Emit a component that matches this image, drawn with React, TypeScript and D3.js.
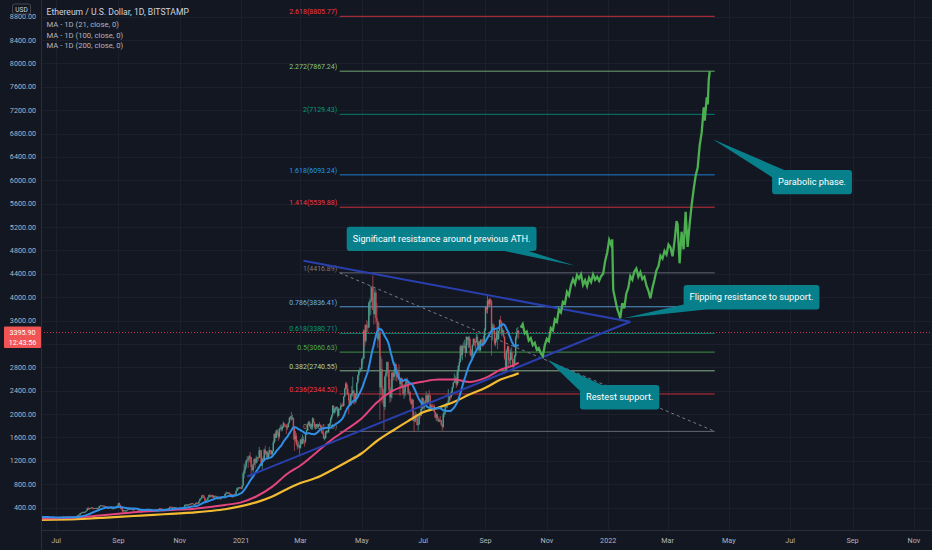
import { useEffect, useRef } from 'react';
import * as d3 from 'd3';

// [high, low, close] per day; open is the previous close
type Row = [number, number, number];

const W = 932;
const H = 550;

// closes before the visible window, used for the 21-day MA
const preStart = '2020-05-26';
const preCloses = [201, 209, 220, 220, 243, 231, 248, 237, 244, 244, 241, 242, 244, 244, 243, 247, 231, 237, 238, 234];

const jun2020: Row[] = [
    [234, 221, 231], [238, 229, 236], [238, 232, 234], [236, 229, 232], [233, 225, 228], [231, 226, 230], [232, 227, 228], [245, 228, 243],
    [245, 240, 243], [246, 232, 235], [236, 226, 232], [233, 226, 229], [231, 220, 222], [227, 219, 226], [230, 224, 228], [229, 224, 226],
];
const jul2020: Row[] = [
    [232, 225, 231], [232, 224, 226], [228, 224, 225], [230, 224, 229], [229, 224, 227], [242, 227, 241], [242, 237, 239], [248, 238, 247],
    [248, 240, 242], [243, 237, 242], [243, 238, 240], [243, 238, 242], [244, 236, 239], [241, 236, 240], [241, 236, 238], [239, 229, 233],
    [234, 231, 233], [237, 232, 236], [240, 234, 239], [239, 235, 236], [247, 236, 245], [266, 244, 264], [279, 262, 275], [283, 270, 279],
    [306, 278, 305], [312, 298, 311], [330, 302, 322], [334, 309, 317], [325, 313, 318], [336, 313, 335], [349, 330, 346],
];
const aug2020: Row[] = [
    [398, 345, 386], [413, 360, 372], [388, 365, 386], [394, 380, 389], [404, 383, 402], [402, 390, 396], [400, 366, 380], [393, 376, 391],
    [393, 377, 390], [398, 381, 395], [398, 358, 378], [392, 368, 390], [428, 387, 427], [443, 420, 437], [437, 428, 433], [435, 418, 433],
    [437, 422, 429], [439, 419, 423], [425, 397, 406], [418, 404, 416], [418, 385, 389], [397, 380, 395], [397, 385, 392], [410, 390, 408],
    [410, 378, 384], [390, 381, 386], [393, 373, 382], [396, 379, 395], [405, 393, 399], [429, 398, 428], [436, 421, 434],
];
const sep2020: Row[] = [
    [480, 433, 477], [488, 431, 440], [451, 373, 385], [397, 367, 386], [393, 319, 335], [355, 330, 353], [357, 336, 354], [356, 326, 337],
    [353, 333, 351], [368, 350, 366], [376, 362, 373], [389, 371, 386], [389, 362, 366], [378, 360, 376], [380, 358, 364], [368, 352, 364],
    [392, 364, 389], [393, 378, 384], [390, 382, 385], [385, 365, 371], [376, 337, 341], [349, 335, 344], [346, 312, 321], [354, 318, 350],
    [356, 342, 352], [357, 347, 354], [359, 345, 357], [368, 353, 354], [363, 349, 359], [362, 354, 359],
];
const oct2020: Row[] = [
    [373, 348, 354], [356, 337, 346], [351, 343, 346], [355, 344, 352], [355, 347, 353], [356, 333, 341], [342, 336, 340], [352, 338, 350],
    [367, 349, 365], [375, 364, 370], [380, 368, 376], [394, 373, 386], [390, 378, 381], [385, 376, 379], [381, 370, 377], [378, 362, 366],
    [370, 363, 368], [378, 366, 377], [383, 375, 379], [378, 364, 368], [396, 367, 392], [416, 389, 413], [416, 401, 409], [415, 404, 412],
    [415, 400, 406], [407, 385, 393], [407, 389, 404], [409, 381, 388], [393, 374, 386], [388, 372, 383], [394, 380, 386],
];
const nov2020: Row[] = [
    [398, 383, 396], [397, 378, 383], [392, 371, 387], [405, 380, 403], [417, 397, 415], [452, 413, 448], [456, 426, 435], [455, 431, 453],
    [463, 437, 444], [454, 441, 450], [470, 447, 463], [472, 452, 462], [478, 460, 475], [476, 454, 461], [462, 440, 449], [466, 442, 461],
    [487, 455, 481], [497, 463, 479], [481, 462, 471], [513, 470, 509], [557, 506, 549], [571, 527, 559], [614, 551, 608], [620, 585, 603],
    [620, 558, 568], [575, 489, 518], [530, 498, 518], [545, 510, 540], [580, 537, 576], [619, 573, 616],
];
const dec2020: Row[] = [
    [637, 570, 588], [602, 578, 598], [620, 590, 616], [620, 568, 569], [597, 562, 596], [606, 584, 601], [604, 584, 592], [595, 561, 573],
    [578, 532, 574], [574, 553, 560], [560, 537, 546], [571, 542, 567], [595, 565, 589], [592, 578, 589], [597, 582, 590], [639, 586, 636],
    [676, 628, 643], [663, 635, 655], [666, 646, 658], [669, 630, 638], [650, 606, 611], [634, 594, 628], [637, 565, 584], [617, 572, 612],
    [627, 600, 626], [642, 615, 634], [696, 631, 682], [747, 683, 730], [742, 698, 731], [754, 721, 751], [752, 717, 737],
];
const jan2021: Row[] = [
    [748, 714, 730], [787, 716, 775], [1011, 769, 979], [1154, 904, 1041], [1133, 986, 1100], [1210, 1064, 1208], [1280, 1170, 1225],
    [1265, 1080, 1224], [1300, 1180, 1281], [1350, 1170, 1262], [1266, 905, 1090], [1150, 1030, 1043], [1140, 1000, 1131], [1245, 1125, 1229],
    [1250, 1075, 1171], [1290, 1150, 1233], [1270, 1170, 1259], [1265, 1200, 1257], [1440, 1245, 1377], [1390, 1250, 1382], [1370, 1110, 1121],
    [1250, 1050, 1236], [1280, 1205, 1231], [1410, 1225, 1391], [1460, 1300, 1324], [1375, 1265, 1357], [1365, 1225, 1252], [1340, 1225, 1332],
    [1440, 1275, 1383], [1385, 1305, 1379], [1385, 1290, 1314],
];
const feb2021: Row[] = [
    [1380, 1300, 1369], [1545, 1355, 1515], [1670, 1495, 1660], [1695, 1530, 1594], [1735, 1595, 1719], [1740, 1640, 1677], [1700, 1540, 1614],
    [1765, 1580, 1750], [1815, 1720, 1769], [1825, 1700, 1744], [1800, 1710, 1783], [1875, 1760, 1843], [1850, 1780, 1814], [1820, 1770, 1800],
    [1830, 1660, 1779], [1825, 1730, 1781], [1860, 1770, 1848], [1945, 1838, 1938], [1970, 1895, 1960], [2040, 1890, 1919], [1990, 1900, 1935],
    [1940, 1560, 1781], [1785, 1370, 1570], [1710, 1525, 1626], [1675, 1465, 1475], [1560, 1395, 1446], [1530, 1430, 1459], [1480, 1290, 1417],
];
const mar2021: Row[] = [
    [1570, 1410, 1565], [1600, 1475, 1492], [1655, 1490, 1575], [1620, 1495, 1541], [1550, 1445, 1534], [1675, 1500, 1653], [1735, 1640, 1724],
    [1840, 1710, 1834], [1875, 1810, 1870], [1885, 1775, 1795], [1840, 1745, 1825], [1840, 1730, 1772], [1945, 1730, 1924], [1935, 1850, 1854],
    [1875, 1760, 1791], [1815, 1735, 1806], [1830, 1745, 1822], [1840, 1760, 1782], [1830, 1770, 1814], [1865, 1800, 1805], [1820, 1730, 1782],
    [1810, 1670, 1681], [1720, 1650, 1669], [1740, 1580, 1583], [1625, 1550, 1588], [1710, 1585, 1700], [1725, 1665, 1716], [1720, 1670, 1691],
    [1830, 1680, 1819], [1850, 1785, 1846], [1950, 1795, 1919],
];
const apr2021: Row[] = [
    [1990, 1900, 1977], [2150, 1955, 2144], [2145, 2020, 2024], [2100, 2005, 2089], [2125, 2040, 2114], [2135, 2060, 2118], [2125, 1935, 1971],
    [2100, 1960, 2089], [2095, 2055, 2075], [2195, 2070, 2136], [2160, 2120, 2159], [2200, 2120, 2140], [2310, 2130, 2300], [2450, 2290, 2436],
    [2545, 2420, 2519], [2550, 2335, 2431], [2495, 2320, 2344], [2370, 2000, 2238], [2280, 2150, 2159], [2345, 2135, 2331], [2480, 2300, 2358],
    [2640, 2300, 2402], [2410, 2170, 2362], [2365, 2170, 2215], [2355, 2185, 2316], [2540, 2310, 2535], [2675, 2520, 2663], [2760, 2580, 2747],
    [2800, 2700, 2757], [2790, 2720, 2773],
];
const may2021: Row[] = [
    [2950, 2765, 2945], [2985, 2860, 2949], [3450, 2945, 3431], [3530, 3160, 3253], [3540, 3220, 3522], [3610, 3385, 3491], [3580, 3400, 3484],
    [3930, 3470, 3902], [3980, 3680, 3928], [4200, 3700, 3952], [4190, 3920, 4168], [4372, 3780, 3785], [4000, 3530, 3715], [4150, 3690, 4079],
    [4120, 3550, 3640], [3900, 3300, 3587], [3590, 3130, 3282], [3560, 3250, 3374], [3440, 1900, 2460], [2990, 2340, 2773], [2940, 2200, 2431],
    [2480, 2160, 2302], [2400, 1730, 2123], [2660, 2070, 2643], [2750, 2390, 2707], [2900, 2660, 2888], [2900, 2630, 2737], [2760, 2370, 2420],
    [2600, 2190, 2285], [2460, 2220, 2389], [2720, 2270, 2707],
];
const jun2021: Row[] = [
    [2730, 2560, 2634], [2760, 2580, 2707], [2890, 2650, 2856], [2860, 2560, 2689], [2800, 2560, 2630], [2760, 2610, 2714], [2850, 2580, 2592],
    [2620, 2310, 2517], [2630, 2440, 2611], [2620, 2450, 2471], [2510, 2320, 2353], [2410, 2260, 2372], [2520, 2300, 2508], [2600, 2460, 2578],
    [2630, 2530, 2549], [2560, 2350, 2367], [2430, 2320, 2373], [2390, 2200, 2231], [2270, 2160, 2178], [2270, 2040, 2246], [2250, 1880, 1889],
    [2010, 1700, 1875], [2050, 1860, 1969], [2030, 1890, 1989], [2000, 1810, 1812], [1880, 1720, 1830], [1990, 1810, 1982], [2050, 1930, 1973],
    [2200, 1970, 2087], [2300, 2060, 2274],
];
const jul2021: Row[] = [
    [2275, 2090, 2113], [2160, 2070, 2150], [2240, 2130, 2226], [2390, 2190, 2322], [2320, 2170, 2197], [2350, 2190, 2324], [2410, 2310, 2317],
    [2330, 2080, 2117], [2170, 2060, 2147], [2180, 2090, 2140], [2160, 2090, 2139], [2170, 2030, 2036], [2050, 1940, 1941], [2020, 1880, 1996],
    [2010, 1900, 1914], [1960, 1860, 1877], [1930, 1860, 1899], [1970, 1870, 1895], [1900, 1800, 1821], [1830, 1718, 1785], [2030, 1760, 1995],
    [2040, 1950, 2027], [2130, 1990, 2124], [2190, 2100, 2188], [2200, 2100, 2191], [2430, 2190, 2233], [2310, 2160, 2300], [2340, 2230, 2299],
    [2400, 2270, 2381], [2470, 2320, 2462], [2550, 2440, 2536],
];
const aug2021: Row[] = [
    [2700, 2540, 2557], [2660, 2530, 2608], [2630, 2450, 2507], [2760, 2480, 2725], [2840, 2530, 2827], [2950, 2730, 2890], [3180, 2880, 3158],
    [3185, 2950, 3012], [3185, 2920, 3163], [3230, 3070, 3141], [3270, 3120, 3164], [3210, 2970, 3046], [3330, 3040, 3322], [3300, 3180, 3266],
    [3330, 3130, 3310], [3340, 3140, 3149], [3290, 2990, 3011], [3100, 2960, 3018], [3190, 2950, 3182], [3300, 3170, 3287], [3290, 3160, 3225],
    [3250, 3120, 3240], [3370, 3220, 3321], [3360, 3150, 3173], [3250, 3080, 3228], [3250, 3070, 3096], [3280, 3070, 3270], [3280, 3200, 3243],
    [3290, 3150, 3224], [3340, 3160, 3226], [3470, 3220, 3433],
];
const sep2021: Row[] = [
    [3840, 3420, 3834], [3840, 3730, 3790], [4020, 3720, 3940], [3970, 3830, 3887], [3985, 3850, 3952], [3980, 3860, 3927], [3960, 3000, 3431],
    [3550, 3260, 3497], [3550, 3380, 3427], [3530, 3180, 3211], [3290, 3160, 3270], [3450, 3240, 3410], [3450, 3110, 3286], [3430, 3270, 3427],
    [3620, 3400, 3611], [3680, 3540, 3574], [3590, 3330, 3398], [3470, 3360, 3433], [3440, 3300, 3329], [3320, 2930, 2958], [3050, 2700, 2761],
    [3110, 2750, 3077], [3170, 3050, 3155], [3170, 2790, 2929], [2970, 2860, 2926], [3120, 2800, 3063], [3150, 2930, 2934], [3040, 2800, 2807],
    [2950, 2790, 2849], [3020, 2840, 3001],
];
const oct2021: Row[] = [[3340, 2970, 3307], [3470, 3270, 3390], [3490, 3370, 3419], [3440, 3290, 3395.9]];

const monthBlocks: [string, Row[]][] = [
    ['2020-06-15', jun2020], ['2020-07-01', jul2020], ['2020-08-01', aug2020], ['2020-09-01', sep2020],
    ['2020-10-01', oct2020], ['2020-11-01', nov2020], ['2020-12-01', dec2020], ['2021-01-01', jan2021],
    ['2021-02-01', feb2021], ['2021-03-01', mar2021], ['2021-04-01', apr2021], ['2021-05-01', may2021],
    ['2021-06-01', jun2021], ['2021-07-01', jul2021], ['2021-08-01', aug2021], ['2021-09-01', sep2021],
    ['2021-10-01', oct2021],
];

// slow moving averages
const maDates = [
    '2020-06-16', '2020-07-01', '2020-07-16', '2020-08-01', '2020-08-16', '2020-09-01', '2020-09-16', '2020-10-01', '2020-10-16',
    '2020-11-01', '2020-11-16', '2020-12-01', '2020-12-16', '2021-01-01', '2021-01-16', '2021-02-01', '2021-02-16', '2021-03-01',
    '2021-03-16', '2021-04-01', '2021-04-16', '2021-05-01', '2021-05-16', '2021-06-01', '2021-06-16', '2021-07-01', '2021-07-16',
    '2021-08-01', '2021-08-16', '2021-09-01', '2021-09-16', '2021-10-01', '2021-10-04',
];
const ma100 = [212, 218, 228, 245, 268, 295, 320, 338, 352, 366, 382, 410, 445, 490, 590, 760, 980, 1120, 1330, 1560, 1740, 1930, 2200, 2400, 2500, 2555, 2590, 2590, 2550, 2620, 2760, 2850, 2880];
const ma200 = [188, 193, 200, 212, 226, 242, 257, 272, 287, 302, 318, 342, 372, 425, 490, 590, 720, 820, 905, 1040, 1180, 1330, 1540, 1720, 1880, 2030, 2110, 2210, 2335, 2450, 2590, 2680, 2700];

// projected path, days after the last candle
const projDays = [
    2, 4, 6, 8, 10, 12, 14, 16, 18, 20, 22, 24, 26, 28, 30, 32, 34, 36, 38, 40, 42, 44, 46, 48, 50, 52, 54, 56, 58, 60, 62, 64, 66, 68, 70,
    72, 74, 76, 78, 80, 82, 84, 86, 88, 90, 92, 93, 94, 96, 98, 100, 101, 103, 105, 107, 109, 111, 113, 115, 117, 119, 121, 123, 125, 127,
    129, 131, 133, 135, 137, 139, 141, 143, 145, 147, 149, 151, 153, 155, 157, 158, 160, 162, 164, 166, 168, 170, 172, 174, 176, 178, 180,
    182, 184, 185, 187, 188, 189, 190,
];
const projPrices = [
    3480, 3540, 3380, 3410, 3260, 3300, 3180, 3220, 3100, 3130, 3040, 2990, 3180, 3290, 3250, 3470, 3430, 3620, 3580, 3790,
    3740, 3920, 3890, 4090, 4030, 4210, 4310, 4230, 4380, 4320, 4390, 4210, 4290, 4190, 4330, 4260, 4390, 4300, 4350, 4280,
    4360, 4400, 4620, 4760, 4980, 4890, 4990, 4130, 3960, 3800, 3700, 3640, 3900, 3810, 4060, 4160, 4360, 4300, 4440, 4490,
    4350, 4430, 4310, 4350, 4200, 4110, 3980, 4160, 4300, 4460, 4530, 4710, 4660, 4790, 4730, 4900, 4850, 4700, 4960, 5300,
    5250, 4580, 5120, 4820, 5460, 4860, 5250, 5580, 5850, 6080, 6220, 6600, 6820, 7250, 7020, 7420, 7300, 7720, 7867,
];

// fibonacci extension
const fibRatios = ['0', '0.236', '0.382', '0.5', '0.618', '0.786', '1', '1.414', '1.618', '2', '2.272', '2.618'];
const fibPrices = [1704.36, 2344.52, 2740.55, 3060.63, 3380.71, 3836.41, 4416.89, 5539.88, 6093.24, 7129.43, 7867.24, 8805.77];
const fibColors = ['#787b86', '#f23645', '#a5d6a7', '#4caf50', '#089981', '#64b5f6', '#787b86', '#f23645', '#2196f3', '#089981', '#81c784', '#f23645'];
const fibSpan = ['2021-04-09', '2022-04-17'];

// triangle trend lines [date, price]
const triUpper: [string, number][] = [['2021-03-04', 4625], ['2022-01-23', 3581]];
const triLower: [string, number][] = [['2021-01-07', 932], ['2022-01-23', 3581]];

const lastPrice = 3395.9;
const countdown = '12:43:56';

const notes = [
    { text: 'Significant resistance around previous ATH.', date: '2021-04-16', price: 5206, tipDate: '2021-11-29', tipPrice: 4539, base: [[-32, 1], [-8, 1]] },
    { text: 'Flipping resistance to support.', date: '2022-03-17', price: 4209, tipDate: '2022-01-16', tipPrice: 3639, base: [[0, 0.8], [22, 1]] },
    { text: 'Restest support.', date: '2021-12-04', price: 2498, tipDate: '2021-11-02', tipPrice: 2926, base: [[0, 0.25], [22, 0]] },
    { text: 'Parabolic phase.', date: '2022-06-13', price: 6177, tipDate: '2022-04-15', tipPrice: 6702, base: [[0, 0.3], [12, 0]] },
];

const legendLines = ['Ethereum / U.S. Dollar, 1D, BITSTAMP', 'MA - 1D (21, close, 0)', 'MA - 1D (100, close, 0)', 'MA - 1D (200, close, 0)'];

const FONT = 'Roboto, "Noto Sans", sans-serif';

export default function App() {
    const svgRef = useRef<SVGSVGElement>(null);

    useEffect(() => {
        if (!svgRef.current) return;
        const svg = d3.select(svgRef.current);
        svg.selectAll('*').remove();

        const parse = d3.utcParse('%Y-%m-%d') as (s: string) => Date;
        const left = 41;
        const bottom = 531;

        const x = d3
            .scaleUtc()
            .domain([parse('2020-06-16'), parse('2022-11-19')])
            .range([left, W]);
        const y = d3.scaleLinear().domain([0, 9085]).range([bottom, 0]);

        svg.append('rect').attr('width', W).attr('height', H).attr('fill', '#131722');

        svg.append('defs')
            .append('clipPath')
            .attr('id', 'plot-clip')
            .append('rect')
            .attr('x', left)
            .attr('y', 0)
            .attr('width', W - left)
            .attr('height', bottom - 1);

        // Grid
        const yTicks = d3.range(400, 9000, 400);
        const xTicks = x.ticks(d3.utcMonth.every(2) as d3.TimeInterval);
        const grid = svg.append('g').attr('stroke', '#1c202c').attr('stroke-width', 1);
        yTicks.forEach((v) => {
            grid.append('line').attr('x1', left).attr('x2', W).attr('y1', Math.round(y(v)) + 0.5).attr('y2', Math.round(y(v)) + 0.5);
        });
        xTicks.forEach((d) => {
            grid.append('line').attr('x1', Math.round(x(d)) + 0.5).attr('x2', Math.round(x(d)) + 0.5).attr('y1', 0).attr('y2', bottom - 1);
        });

        const plot = svg.append('g').attr('clip-path', 'url(#plot-clip)');

        // Current price line
        plot.append('line')
            .attr('x1', left)
            .attr('x2', W)
            .attr('y1', y(lastPrice))
            .attr('y2', y(lastPrice))
            .attr('stroke', '#f23645')
            .attr('stroke-width', 1)
            .attr('stroke-dasharray', '1,2')
            .attr('opacity', 0.85);

        // Fib levels
        const fx0 = x(parse(fibSpan[0]));
        const fx1 = x(parse(fibSpan[1]));
        fibPrices.forEach((p, i) => {
            plot.append('line')
                .attr('x1', fx0)
                .attr('x2', fx1)
                .attr('y1', y(p))
                .attr('y2', y(p))
                .attr('stroke', fibColors[i])
                .attr('stroke-width', 1)
                .attr('opacity', 0.8);
            plot.append('text')
                .attr('x', fx0 - 2.5)
                .attr('y', y(p) - 2)
                .attr('text-anchor', 'end')
                .attr('font-family', FONT)
                .attr('font-size', 7)
                .attr('fill', fibColors[i])
                .text(`${fibRatios[i]}(${p.toFixed(2)})`);
        });
        plot.append('line')
            .attr('x1', fx0)
            .attr('y1', y(fibPrices[6]))
            .attr('x2', fx1)
            .attr('y2', y(fibPrices[0]))
            .attr('stroke', '#787b86')
            .attr('stroke-width', 1)
            .attr('stroke-dasharray', '3,3');

        // Candles
        const candles: { date: Date; open: number; high: number; low: number; close: number }[] = [];
        let prev = preCloses[preCloses.length - 1];
        monthBlocks.forEach(([start, rows]) => {
            const d0 = parse(start);
            rows.forEach(([hi, lo, cl], i) => {
                candles.push({ date: d3.utcDay.offset(d0, i), open: prev, high: hi, low: lo, close: cl });
                prev = cl;
            });
        });

        const candleG = plot.append('g');
        candles.forEach((c) => {
            const up = c.close >= c.open;
            const col = up ? '#4f9c8e' : '#c44f58';
            const cx = x(c.date);
            candleG.append('line')
                .attr('x1', cx)
                .attr('x2', cx)
                .attr('y1', y(c.high))
                .attr('y2', y(c.low))
                .attr('stroke', col)
                .attr('stroke-width', 0.7);
            const top = y(Math.max(c.open, c.close));
            const h = Math.max(0.8, y(Math.min(c.open, c.close)) - top);
            candleG.append('rect').attr('x', cx - 0.7).attr('width', 1.4).attr('y', top).attr('height', h).attr('fill', col);
        });

        // Moving averages
        const closes = preCloses.concat(candles.map((c) => c.close));
        const closeStart = parse(preStart);
        const ma21: [Date, number][] = [];
        for (let i = 20; i < closes.length; i++) {
            ma21.push([d3.utcDay.offset(closeStart, i), d3.mean(closes.slice(i - 20, i + 1)) as number]);
        }
        const line = d3
            .line<[Date, number]>()
            .x((d) => x(d[0]))
            .y((d) => y(d[1]));
        const smooth = d3
            .line<[Date, number]>()
            .x((d) => x(d[0]))
            .y((d) => y(d[1]))
            .curve(d3.curveMonotoneX);

        const maSeries: [[Date, number][], string, number, typeof line][] = [
            [maDates.map((d, i) => [parse(d), ma200[i]]), '#f2bb32', 2.2, smooth],
            [maDates.map((d, i) => [parse(d), ma100[i]]), '#e3457c', 2, smooth],
            [ma21, '#2f8fe6', 2, line],
        ];
        maSeries.forEach(([pts, color, width, gen]) => {
            plot.append('path')
                .datum(pts)
                .attr('fill', 'none')
                .attr('stroke', color)
                .attr('stroke-width', width)
                .attr('stroke-linejoin', 'round')
                .attr('d', gen);
        });

        // Triangle
        [triUpper, triLower].forEach((pts) => {
            plot.append('path')
                .datum(pts.map(([d, v]) => [parse(d), v] as [Date, number]))
                .attr('fill', 'none')
                .attr('stroke', '#2a3fae')
                .attr('stroke-width', 2)
                .attr('d', line);
        });

        // Projection
        const lastDate = candles[candles.length - 1].date;
        plot.append('path')
            .datum(projDays.map((d, i) => [d3.utcDay.offset(lastDate, d), projPrices[i]] as [Date, number]))
            .attr('fill', 'none')
            .attr('stroke', '#4caf50')
            .attr('stroke-width', 2.3)
            .attr('stroke-linejoin', 'miter')
            .attr('d', line);

        // Callouts
        notes.forEach((n) => {
            const g = plot.append('g');
            const bx = x(parse(n.date));
            const by = y(n.price);
            const t = g
                .append('text')
                .attr('font-family', FONT)
                .attr('font-size', 9.2)
                .attr('fill', '#ffffff')
                .text(n.text);
            const tw = (t.node() as SVGTextElement).getComputedTextLength();
            const bw = tw + 12;
            const bh = 24.4;
            const tx = x(parse(n.tipDate));
            const ty = y(n.tipPrice);
            const b1 = [bx + (n.base[0][0] < 0 ? bw + n.base[0][0] : n.base[0][0]), by + n.base[0][1] * bh];
            const b2 = [bx + (n.base[1][0] < 0 ? bw + n.base[1][0] : n.base[1][0]), by + n.base[1][1] * bh];
            g.insert('path', 'text')
                .attr('d', `M${b1[0]},${b1[1]}L${tx},${ty}L${b2[0]},${b2[1]}Z`)
                .attr('fill', '#08808c');
            g.insert('rect', 'text')
                .attr('x', bx)
                .attr('y', by)
                .attr('width', bw)
                .attr('height', bh)
                .attr('rx', 3)
                .attr('fill', '#08808c');
            t.attr('x', bx + bw / 2).attr('y', by + bh / 2 + 3.2).attr('text-anchor', 'middle');
        });

        // Axes frame
        svg.append('line').attr('x1', left + 0.5).attr('x2', left + 0.5).attr('y1', 0).attr('y2', H).attr('stroke', '#2a2e39');
        svg.append('line').attr('x1', left).attr('x2', W).attr('y1', bottom - 0.5).attr('y2', bottom - 0.5).attr('stroke', '#2a2e39');

        const yAxis = svg.append('g');
        yTicks.forEach((v) => {
            yAxis.append('text')
                .attr('x', 36)
                .attr('y', y(v) + 2.5)
                .attr('text-anchor', 'end')
                .attr('font-family', FONT)
                .attr('font-size', 7.2)
                .attr('fill', '#b2b5be')
                .text(d3.format('.2f')(v));
        });

        const xAxis = svg.append('g');
        xTicks.forEach((d) => {
            xAxis.append('text')
                .attr('x', x(d))
                .attr('y', 543)
                .attr('text-anchor', 'middle')
                .attr('font-family', FONT)
                .attr('font-size', 7.2)
                .attr('fill', '#b2b5be')
                .text(d.getUTCMonth() === 0 ? d3.utcFormat('%Y')(d) : d3.utcFormat('%b')(d));
        });

        // Last price label
        const py = y(lastPrice);
        svg.append('rect').attr('x', 4).attr('y', py - 6).attr('width', 37).attr('height', 21.6).attr('rx', 1).attr('fill', '#f05454');
        [d3.format('.2f')(lastPrice), countdown].forEach((s, i) => {
            svg.append('text')
                .attr('x', 22.5)
                .attr('y', py + 2.6 + i * 10.3)
                .attr('text-anchor', 'middle')
                .attr('font-family', FONT)
                .attr('font-size', 7.2)
                .attr('fill', '#ffffff')
                .text(s);
        });

        // USD badge
        svg.append('rect')
            .attr('x', 12.5)
            .attr('y', 4)
            .attr('width', 18)
            .attr('height', 10)
            .attr('rx', 2)
            .attr('fill', '#131722')
            .attr('stroke', '#50535e')
            .attr('stroke-width', 0.8);
        svg.append('text')
            .attr('x', 21.5)
            .attr('y', 11.5)
            .attr('text-anchor', 'middle')
            .attr('font-family', FONT)
            .attr('font-size', 6.6)
            .attr('fill', '#d1d4dc')
            .text('USD');

        // Legend
        legendLines.forEach((s, i) => {
            svg.append('text')
                .attr('x', 46.5)
                .attr('y', 14.8 + i * 10.4 + (i > 0 ? 2 : 0))
                .attr('font-family', FONT)
                .attr('font-size', i === 0 ? 8.6 : 7.7)
                .attr('fill', i === 0 ? '#d1d4dc' : '#b2b5be')
                .text(s);
        });
    }, []);

    return <svg ref={svgRef} width={W} height={H} style={{ position: 'absolute', left: 0, top: 0, display: 'block' }} />;
}
